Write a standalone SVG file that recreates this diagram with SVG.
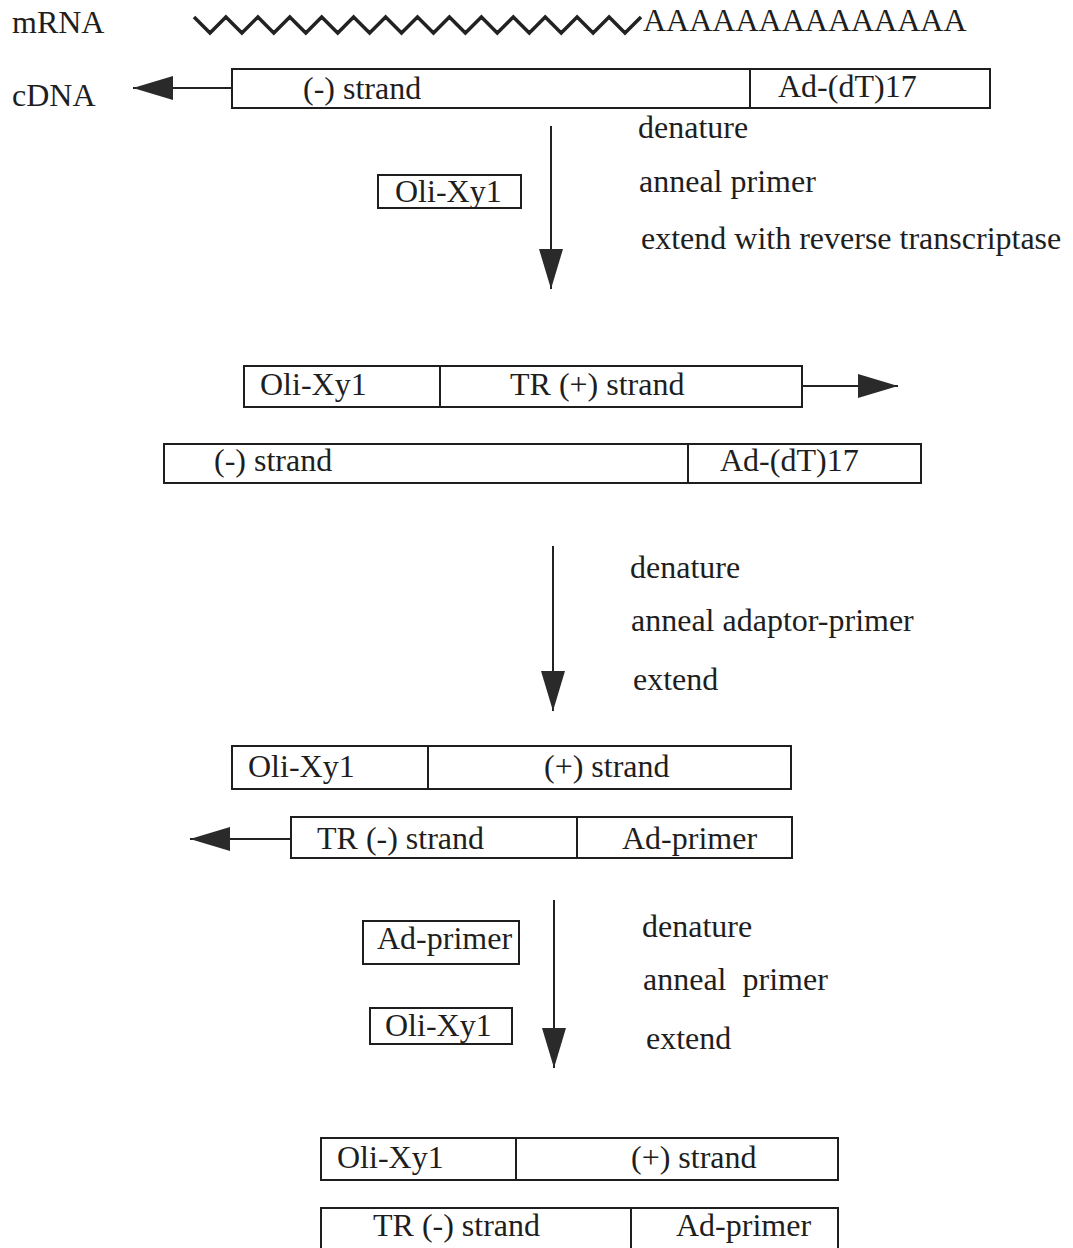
<svg xmlns="http://www.w3.org/2000/svg" width="1073" height="1248" viewBox="0 0 1073 1248">
<defs>
<style>
text{font-family:"Liberation Serif","Times New Roman",serif;font-size:32px;fill:#1e1e1e;white-space:pre}
.box{fill:#fff;stroke:#1e1e1e;stroke-width:2}
.div{stroke:#1e1e1e;stroke-width:2}
.conn{stroke:#222;stroke-width:2;fill:none}
</style>
<marker id="ah" viewBox="0 0 40 24" refX="40" refY="12" markerWidth="40" markerHeight="24" markerUnits="userSpaceOnUse" orient="auto">
<path d="M0,0 L40,12 L0,24 z" fill="#2a2a2a"/>
</marker>
</defs>
<rect width="1073" height="1248" fill="#fff"/>

<g id="mrna">
<text x="12" y="33">mRNA</text>
<polyline fill="none" stroke="#222" stroke-width="3.5" stroke-linejoin="miter" points="194,17 210,33 225.9,17 241.9,33 257.9,17 273.8,33 289.8,17 305.8,33 321.7,17 337.7,33 353.6,17 369.6,33 385.6,17 401.5,33 417.5,17 433.5,33 449.4,17 465.4,33 481.4,17 497.3,33 513.3,17 529.3,33 545.2,17 561.2,33 577.1,17 593.1,33 609.1,17 625,33 641,17"/>
<text x="643" y="31">AAAAAAAAAAAAAA</text>
</g>

<g id="cdna">
<text x="12" y="106">cDNA</text>
<rect class="box" x="232" y="69" width="758" height="39"/>
<line class="div" x1="750" y1="69" x2="750" y2="108"/>
<text x="303" y="99">(-) strand</text>
<text x="778" y="97">Ad-(dT)17</text>
</g>

<g id="primer1">
<rect class="box" x="378" y="175" width="143" height="33"/>
<text x="395" y="202">Oli-Xy1</text>
</g>

<g id="step1-labels">
<text x="638" y="138">denature</text>
<text x="639" y="192">anneal primer</text>
<text x="641" y="249">extend with reverse transcriptase</text>
</g>

<g id="row3-top">
<rect class="box" x="244" y="366" width="558" height="41"/>
<line class="div" x1="440" y1="366" x2="440" y2="407"/>
<text x="260" y="395">Oli-Xy1</text>
<text x="510" y="395">TR (+) strand</text>
</g>

<g id="row3-bottom">
<rect class="box" x="164" y="444" width="757" height="39"/>
<line class="div" x1="688" y1="444" x2="688" y2="483"/>
<text x="214" y="471">(-) strand</text>
<text x="720" y="471">Ad-(dT)17</text>
</g>

<g id="step2-labels">
<text x="630" y="578">denature</text>
<text x="631" y="631">anneal adaptor-primer</text>
<text x="633" y="690">extend</text>
</g>

<g id="row4-top">
<rect class="box" x="232" y="746" width="559" height="43"/>
<line class="div" x1="428" y1="746" x2="428" y2="789"/>
<text x="248" y="777">Oli-Xy1</text>
<text x="544" y="777">(+) strand</text>
</g>

<g id="row4-bottom">
<rect class="box" x="291" y="817" width="501" height="41"/>
<line class="div" x1="577" y1="817" x2="577" y2="858"/>
<text x="317" y="849">TR (-) strand</text>
<text x="622" y="849">Ad-primer</text>
</g>

<g id="primer2">
<rect class="box" x="363" y="921" width="156" height="43"/>
<text x="377" y="949">Ad-primer</text>
</g>

<g id="primer3">
<rect class="box" x="370" y="1008" width="142" height="36"/>
<text x="385" y="1036">Oli-Xy1</text>
</g>

<g id="step3-labels">
<text x="642" y="937">denature</text>
<text x="643" y="990">anneal  primer</text>
<text x="646" y="1049">extend</text>
</g>

<g id="row5-top">
<rect class="box" x="321" y="1138" width="517" height="42"/>
<line class="div" x1="516" y1="1138" x2="516" y2="1180"/>
<text x="337" y="1168">Oli-Xy1</text>
<text x="631" y="1168">(+) strand</text>
</g>

<g id="row5-bottom">
<rect class="box" x="321" y="1208" width="517" height="46"/>
<line class="div" x1="631" y1="1208" x2="631" y2="1254"/>
<text x="373" y="1236">TR (-) strand</text>
<text x="676" y="1236">Ad-primer</text>
</g>

<g id="connectors">
<line class="conn" x1="232" y1="88" x2="133" y2="88" marker-end="url(#ah)"/>
<line class="conn" x1="551" y1="126" x2="551" y2="289" marker-end="url(#ah)"/>
<line class="conn" x1="802" y1="386" x2="898" y2="386" marker-end="url(#ah)"/>
<line class="conn" x1="553" y1="546" x2="553" y2="711" marker-end="url(#ah)"/>
<line class="conn" x1="291" y1="839" x2="190" y2="839" marker-end="url(#ah)"/>
<line class="conn" x1="554" y1="900" x2="554" y2="1068" marker-end="url(#ah)"/>
</g>
</svg>
